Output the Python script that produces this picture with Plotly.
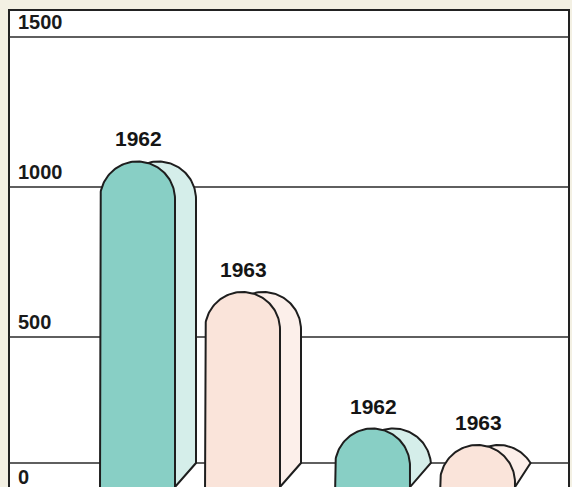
import numpy as np
import plotly.graph_objects as go

# ---- data ----
years = ["1962", "1963", "1962", "1963"]
values = [1085, 650, 195, 140]
groups = [0, 0, 1, 1]
tick_values = [1500, 1000, 500, 0]
tick_labels = ["1500", "1000", "500", "0"]

# ---- layout constants ----
W, H = 572, 487
y_max = 1623.3
px_per_unit = H / y_max
bar_w = 75.0
hw = bar_w / 2
depth_dx = 21.0
floor_v = 80.0
first_center = 137.5
in_group_step = 105.0
group_step = 235.0
front_colors = {"1962": "#88cfc5", "1963": "#fae4da"}
back_colors = {"1962": "#d5eeea", "1963": "#fcefea"}
outline = "#1e1e1e"

fig = go.Figure()
rv = hw / px_per_unit

def dome(cx, top, n=80):
    t = np.linspace(np.pi, 0, n)
    return cx + hw * np.cos(t), top - rv + rv * np.sin(t)

for i, (yr, v, g) in enumerate(zip(years, values, groups)):
    idx_in_group = i - 2 * g
    cx = first_center + g * group_step + idx_in_group * in_group_step
    shoulder = v - rv
    # back face (shifted dome, down to the floor line, then a diagonal to the front edge)
    dxs, dys = dome(cx + depth_dx, v)
    if shoulder >= floor_v:
        bx = list(dxs) + [cx + hw + depth_dx]
        by = list(dys) + [floor_v]
    else:
        keep = dys >= floor_v
        s = np.clip((floor_v - v + rv) / rv, -1, 1)
        xi = cx + depth_dx + hw * np.cos(np.arcsin(s))
        bx = list(dxs[keep]) + [xi]
        by = list(dys[keep]) + [floor_v]
    bx += [cx + hw, cx + hw, cx - hw + depth_dx, bx[0]]
    by += [0, -30, -30, by[0]]
    fig.add_trace(go.Scatter(x=bx, y=by, mode="lines", fill="toself",
                             fillcolor=back_colors[yr],
                             line=dict(color=outline, width=2),
                             hoverinfo="skip", showlegend=False))
    # front face
    fxs, fys = dome(cx, v)
    fx = [cx - hw] + list(fxs) + [cx + hw, cx + hw, cx - hw]
    fy = [-30] + list(fys) + [-30, -30, -30]
    fig.add_trace(go.Scatter(x=fx, y=fy, mode="lines", fill="toself",
                             fillcolor=front_colors[yr],
                             line=dict(color=outline, width=2),
                             hoverinfo="skip", showlegend=False))
    fig.add_annotation(x=cx + 1, y=v, text=yr, showarrow=False, yanchor="bottom",
                       yshift=9, xanchor="center",
                       font=dict(family="Liberation Sans, Arial",
                                 size=21, color="#151515", weight="bold"))

# frame and gridlines
frame_left, frame_right, frame_top = 9, 569, 1590
shapes = [dict(type="rect", xref="x", yref="y", x0=frame_left, x1=frame_right,
               y0=-20, y1=frame_top, fillcolor="white",
               line=dict(color="#222222", width=2), layer="below")]
for tv in tick_values:
    yv = tv if tv > 0 else floor_v
    shapes.append(dict(type="line", xref="x", yref="y", x0=frame_left, x1=frame_right,
                       y0=yv, y1=yv, line=dict(color="#2a2a2a", width=1.6), layer="below"))
fig.update_layout(shapes=shapes)

for tv, tl in zip(tick_values, tick_labels):
    if tv > 0:
        fig.add_annotation(x=16, y=tv, text=tl, showarrow=False, xanchor="left",
                           yanchor="bottom", yshift=2,
                           font=dict(family="Liberation Sans, Arial", size=20,
                                     color="#1a1a1a", weight="bold"))
    else:
        fig.add_annotation(x=16, y=floor_v, text=tl, showarrow=False, xanchor="left",
                           yanchor="top", yshift=-1,
                           font=dict(family="Liberation Sans, Arial", size=20,
                                     color="#1a1a1a", weight="bold"))

fig.update_layout(
    width=W, height=H,
    margin=dict(l=0, r=0, t=0, b=0),
    paper_bgcolor="#f3f0e3", plot_bgcolor="#f3f0e3",
    xaxis=dict(range=[0, W], visible=False, fixedrange=True),
    yaxis=dict(range=[0, y_max], visible=False, fixedrange=True),
    showlegend=False,
)
fig.write_html("out.html", config={"displayModeBar": False},
               post_script="document.body.style.margin='0';document.body.style.overflow='hidden';")
